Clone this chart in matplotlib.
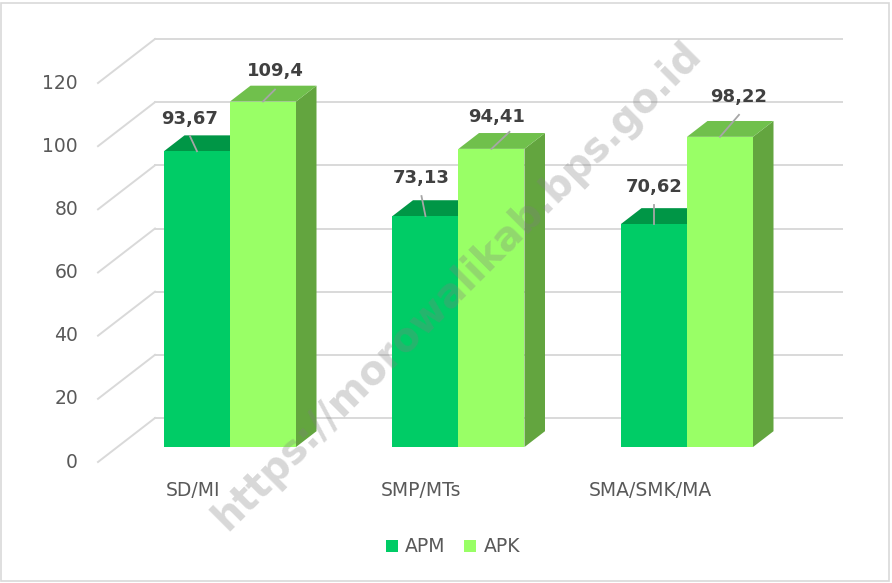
import matplotlib
matplotlib.use("Agg")
import matplotlib.pyplot as plt
from matplotlib.patches import Polygon, Patch, Rectangle

# ---- data ----
categories = ["SD/MI", "SMP/MTs", "SMA/SMK/MA"]
apm = [93.67, 73.13, 70.62]
apk = [109.4, 94.41, 98.22]
series_names = ["APM", "APK"]
apm_labels = ["93,67", "73,13", "70,62"]
apk_labels = ["109,4", "94,41", "98,22"]
yticks = [0, 20, 40, 60, 80, 100, 120]

# ---- styles / geometry ----
W, H = 892, 583
SX = 228.5            # px per category
SY = 379.0 / 120.0    # px per value unit
X0 = 210.6            # px of category 0 on front floor plane
Y0 = 462.0            # px (from top) of value 0 on front plane
DX = 57.0 / SX        # full floor depth, category units
DY = 44.0 / SY        # full floor depth, value units
FLOOR_LEFT = (98 - X0) / SX
BACK_RIGHT = (842 - X0) / SX
BAR_W = 66.0 / SX
T0, T1 = 0.34, 0.70

col = {
    "APM": dict(front="#00CC66", top="#009646", side="#00A050"),
    "APK": dict(front="#99FF66", top="#70C04C", side="#63A53F"),
}
grid_c = "#D9D9D9"
txt_c = "#595959"
lab_c = "#404040"

fig = plt.figure(figsize=(W / 100, H / 100), dpi=100)
ax = fig.add_axes([0, 0, 1, 1])
ax.set_xlim(-X0 / SX, (W - X0) / SX)
ax.set_ylim(-(H - Y0) / SY, Y0 / SY)
ax.axis("off")

# border
fig.patches.append(Rectangle((1 / W, 2 / H), 1 - 4 / W, 1 - 5 / H, transform=fig.transFigure,
                             fill=False, edgecolor="#D9D9D9", lw=1.2))

# gridlines (back wall + left wall diagonals)
for v in yticks:
    ax.plot([FLOOR_LEFT, FLOOR_LEFT + DX], [v, v + DY], color=grid_c, lw=1.4, zorder=1)
    ax.plot([FLOOR_LEFT + DX, BACK_RIGHT], [v + DY, v + DY], color=grid_c, lw=1.4, zorder=1)
    ax.text((78 - X0) / SX, v, str(v), ha="right", va="center", fontsize=13.5, color=txt_c)


def draw_bar(x_left, val, c, z):
    x0 = x_left + T0 * DX
    y0 = T0 * DY
    ddx = (T1 - T0) * DX
    ddy = (T1 - T0) * DY
    front = [(x0, y0), (x0 + BAR_W, y0), (x0 + BAR_W, y0 + val), (x0, y0 + val)]
    top = [(x0, y0 + val), (x0 + BAR_W, y0 + val), (x0 + BAR_W + ddx, y0 + val + ddy),
           (x0 + ddx, y0 + val + ddy)]
    side = [(x0 + BAR_W, y0), (x0 + BAR_W + ddx, y0 + ddy), (x0 + BAR_W + ddx, y0 + val + ddy),
            (x0 + BAR_W, y0 + val)]
    ax.add_patch(Polygon(side, closed=True, facecolor=c["side"], edgecolor="none", zorder=z))
    ax.add_patch(Polygon(top, closed=True, facecolor=c["top"], edgecolor="none", zorder=z))
    ax.add_patch(Polygon(front, closed=True, facecolor=c["front"], edgecolor="none", zorder=z + 0.1))
    return (x0 + BAR_W / 2, y0 + val)


# label offsets (px) and leader end offsets (px)
apm_off = [(-7, 32), (-4, 38), (0, 37)]
apm_lead = [(-7, 15), (-4, 20), (0, 19)]
apk_off = [(12, 31), (5, 32), (19, 40)]
apk_lead = [(12, 12), (18, 17), (19, 22)]

for i, cat in enumerate(categories):
    a1 = draw_bar(i - BAR_W, apm[i], col["APM"], 2 + i)
    a2 = draw_bar(i, apk[i], col["APK"], 2.5 + i)
    for anc, off, lead, lab in [(a1, apm_off[i], apm_lead[i], apm_labels[i]),
                                (a2, apk_off[i], apk_lead[i], apk_labels[i])]:
        ax.plot([anc[0], anc[0] + lead[0] / SX], [anc[1], anc[1] + lead[1] / SY],
                color="#A6A6A6", lw=1.3, zorder=10)
        ax.annotate(lab, xy=anc, xytext=off, textcoords="offset pixels", ha="center",
                    va="center", fontsize=13, fontweight="bold", color=lab_c, zorder=11)
    ax.text(i + T0 * DX - 37 / SX, -28 / SY, cat, ha="center", va="center",
            fontsize=13.5, color=txt_c)

handles = [Patch(facecolor=col[n]["front"], edgecolor="none") for n in series_names]
ax.legend(handles, series_names, loc="center", bbox_to_anchor=(453 / W, 1 - 547 / H),
          ncol=2, frameon=False, fontsize=13.5, labelcolor=txt_c, handlelength=0.62,
          handleheight=0.62, handletextpad=0.4, columnspacing=1.0)

# watermark
fig.text(457 / W, 1 - 286 / H, "https://morowalikab.bps.go.id", rotation=45,
         ha="center", va="center", fontsize=28.5, fontweight="bold", color="#7F7F7F",
         alpha=0.3, zorder=20)

fig.savefig("out.png", dpi=100)
